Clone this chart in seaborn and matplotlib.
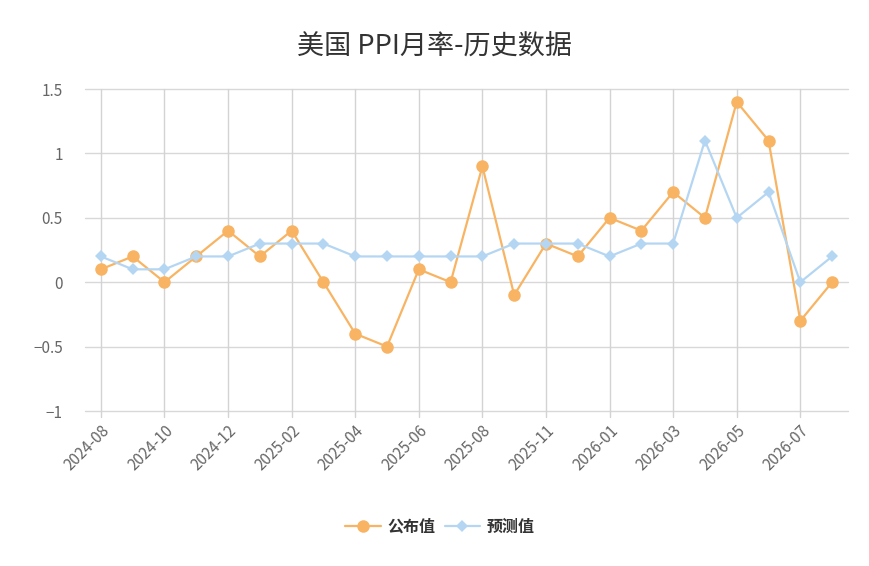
import pandas as pd
import seaborn as sns
import matplotlib.pyplot as plt
import numpy as np

# data
months = ['2024-08', '2024-09', '2024-10', '2024-11', '2024-12', '2025-01',
          '2025-02', '2025-03', '2025-04', '2025-05', '2025-06', '2025-07',
          '2025-08', '2025-09', '2025-11', '2025-12', '2026-01', '2026-02',
          '2026-03', '2026-04', '2026-05', '2026-06', '2026-07', '2026-08']
actual = [0.1, 0.2, 0.0, 0.2, 0.4, 0.2, 0.4, 0.0, -0.4, -0.5, 0.1, 0.0,
          0.9, -0.1, 0.3, 0.2, 0.5, 0.4, 0.7, 0.5, 1.4, 1.1, -0.3, 0.0]
forecast = [0.2, 0.1, 0.1, 0.2, 0.2, 0.3, 0.3, 0.3, 0.2, 0.2, 0.2, 0.2,
            0.2, 0.3, 0.3, 0.3, 0.2, 0.3, 0.3, 1.1, 0.5, 0.7, 0.0, 0.2]
y_ticks = [-1, -0.5, 0, 0.5, 1, 1.5]
y_labels = ['\u22121', '\u22120.5', '0', '0.5', '1', '1.5']

sns.set_style('white')
plt.rcParams['font.family'] = ['Noto Sans CJK SC', 'DejaVu Sans']

df = pd.DataFrame({'idx': np.arange(len(months)), 'month': months,
                   '公布值': actual, '预测值': forecast})

orange = '#F8B462'
blue = '#B5D6F2'

fig = plt.figure(figsize=(8.7, 5.66), dpi=100)
ax = fig.add_axes([85 / 870, 1 - 411 / 566, (848 - 85) / 870, (411 - 89) / 566])

sns.lineplot(x='idx', y='公布值', data=df, color=orange, linewidth=1.6,
             marker='o', markersize=9, markeredgewidth=0, ax=ax, zorder=3,
             label='公布值')
sns.lineplot(x='idx', y='预测值', data=df, color=blue, linewidth=1.6,
             marker='D', markersize=6, markeredgewidth=0, ax=ax, zorder=4,
             label='预测值')

ax.set_xlim(-0.5, len(months) - 0.5)
ax.set_ylim(-1, 1.5)
ax.set_yticks(y_ticks)
ax.set_yticklabels(y_labels)
tick_idx = list(range(0, len(months), 2))
ax.set_xticks(tick_idx)
ax.set_xticklabels([months[i] for i in tick_idx], rotation=45, ha='right',
                   rotation_mode='anchor')
ax.set_xlabel('')
ax.set_ylabel('')

# grid lines
for y in y_ticks:
    ax.axhline(y, color='#D8D8D8', linewidth=1, zorder=0, clip_on=False)
for i in tick_idx:
    ax.plot([i, i], [-1.05, 1.5], color='#D3D3D3', linewidth=1, zorder=0,
            clip_on=False)
for s in ax.spines.values():
    s.set_visible(False)
ax.tick_params(axis='both', length=0, labelsize=11, labelcolor='#666666')
ax.tick_params(axis='x', pad=8)
ax.tick_params(axis='y', pad=16)

fig.suptitle('美国 PPI月率-历史数据', y=0.943, fontsize=19.5, color='#333333')

leg = ax.legend(loc='upper center', bbox_to_anchor=(0.465, -0.29), ncol=2,
                frameon=False, handlelength=2.2, columnspacing=0.6,
                handletextpad=0.4, prop={'weight': 'bold', 'size': 11.5})
for t in leg.get_texts():
    t.set_color('#333333')

plt.savefig('out.png', dpi=100)
